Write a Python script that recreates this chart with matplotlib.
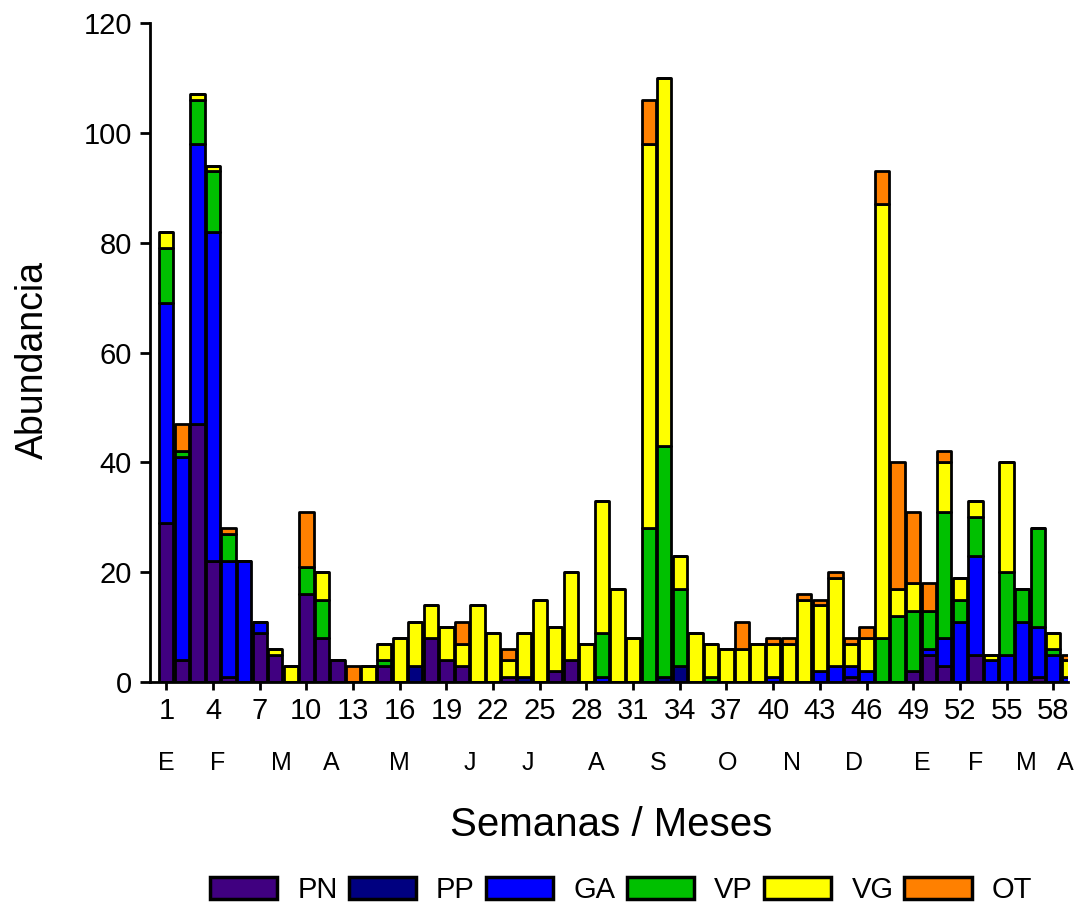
import numpy as np
import matplotlib
matplotlib.use("Agg")
import matplotlib.pyplot as plt
from matplotlib.transforms import blended_transform_factory

plt.rcParams['font.family'] = ['Liberation Sans', 'DejaVu Sans']

weeks = list(range(1, 60))
PN = [29, 4, 47, 22, 1, 0, 9, 5, 0, 16, 8, 4, 0, 0, 3, 0, 0, 8, 4, 3,
      0, 0, 1, 0, 0, 2, 4, 0, 0, 0, 0, 0, 0, 0, 0, 0, 0, 0, 0, 0,
      0, 0, 0, 0, 1, 0, 0, 0, 2, 5, 3, 0, 5, 0, 0, 0, 1, 0, 0]
PP = [0, 0, 0, 0, 0, 0, 0, 0, 0, 0, 0, 0, 0, 0, 0, 0, 3, 0, 0, 0,
      0, 0, 0, 1, 0, 0, 0, 0, 0, 0, 0, 0, 1, 3, 0, 0, 0, 0, 0, 0,
      0, 0, 0, 0, 0, 0, 0, 0, 0, 0, 0, 0, 0, 0, 0, 0, 0, 0, 0]
GA = [40, 37, 51, 60, 21, 22, 2, 0, 0, 0, 0, 0, 0, 0, 0, 0, 0, 0, 0, 0,
      0, 0, 0, 0, 0, 0, 0, 0, 1, 0, 0, 0, 0, 0, 0, 0, 0, 0, 0, 1,
      0, 0, 2, 3, 2, 2, 0, 0, 0, 1, 5, 11, 18, 4, 5, 11, 9, 5, 1]
VP = [10, 1, 8, 11, 5, 0, 0, 0, 0, 5, 7, 0, 0, 0, 1, 0, 0, 0, 0, 0,
      0, 0, 0, 0, 0, 0, 0, 0, 8, 0, 0, 28, 42, 14, 0, 1, 0, 0, 0, 0,
      0, 0, 0, 0, 0, 0, 8, 12, 11, 7, 23, 4, 7, 0, 15, 6, 18, 1, 0]
VG = [3, 0, 1, 1, 0, 0, 0, 1, 3, 0, 5, 0, 0, 3, 3, 8, 8, 6, 6, 4,
      14, 9, 3, 8, 15, 8, 16, 7, 24, 17, 8, 70, 67, 6, 9, 6, 6, 6, 7, 6,
      7, 15, 12, 16, 4, 6, 79, 5, 5, 0, 9, 4, 3, 1, 20, 0, 0, 3, 3]
OT = [0, 5, 0, 0, 1, 0, 0, 0, 0, 10, 0, 0, 3, 0, 0, 0, 0, 0, 0, 4,
      0, 0, 2, 0, 0, 0, 0, 0, 0, 0, 0, 8, 0, 0, 0, 0, 0, 5, 0, 1,
      1, 1, 1, 1, 1, 2, 6, 23, 13, 5, 2, 0, 0, 0, 0, 0, 0, 0, 1]

series = [("PN", PN, "#400080"), ("PP", PP, "#000080"), ("GA", GA, "#0000FF"),
          ("VP", VP, "#00C000"), ("VG", VG, "#FFFF00"), ("OT", OT, "#FF8000")]

xticks = list(range(1, 60, 3))
month_labels = ["E", "F", "M", "A", "M", "J", "J", "A", "S", "O", "N", "D", "E", "F", "M", "A"]
month_pos = [1.0, 4.3, 8.4, 11.6, 16.0, 20.5, 24.2, 28.6, 32.6, 37.1, 41.2, 45.2, 49.6, 53.0, 56.3, 58.8]

W, H = 1086, 911
fig = plt.figure(figsize=(W / 100, H / 100), dpi=100)
ax = fig.add_axes([150 / W, 1 - 682 / H, (1068 - 150) / W, 659 / H])

x = np.array(weeks)
bottom = np.zeros(len(weeks))
handles = []
for name, vals, col in series:
    v = np.array(vals, dtype=float)
    b = ax.bar(x, v, width=0.92, bottom=bottom, color=col, edgecolor="black",
               linewidth=2.0, label=name, joinstyle="round")
    handles.append(b)
    bottom += v

ax.set_xlim(-0.05, 58.95)
ax.set_ylim(0, 120)
ax.set_yticks(range(0, 121, 20))
ax.set_xticks(xticks)
ax.set_xticklabels([str(t) for t in xticks])
for s in ["top", "right"]:
    ax.spines[s].set_visible(False)
for s in ["left", "bottom"]:
    ax.spines[s].set_linewidth(2.0)
ax.tick_params(axis="y", direction="out", length=7, width=2.0, labelsize=21, pad=6)
ax.tick_params(axis="x", direction="out", length=6, width=2.0, labelsize=21, pad=5)

trans = blended_transform_factory(ax.transData, ax.transAxes)
for lab, p in zip(month_labels, month_pos):
    ax.text(p, -0.123, lab, transform=trans, ha="center", va="center", fontsize=18)

fig.text(611 / W, 1 - 825 / H, "Semanas / Meses", ha="center", va="center", fontsize=29)
fig.text(33 / W, 1 - 360 / H, "Abundancia", ha="center", va="center", fontsize=27, rotation=90)

leg = fig.legend(handles=handles, labels=[s[0] for s in series], loc="center",
                 bbox_to_anchor=(621 / W, 1 - 890 / H), ncol=6, frameon=False,
                 fontsize=21, handlelength=2.3, handleheight=0.8, handletextpad=0.7,
                 columnspacing=0.38, borderaxespad=0)
for p in leg.get_patches():
    p.set_linewidth(2.5)

fig.savefig("out.png", dpi=100)
